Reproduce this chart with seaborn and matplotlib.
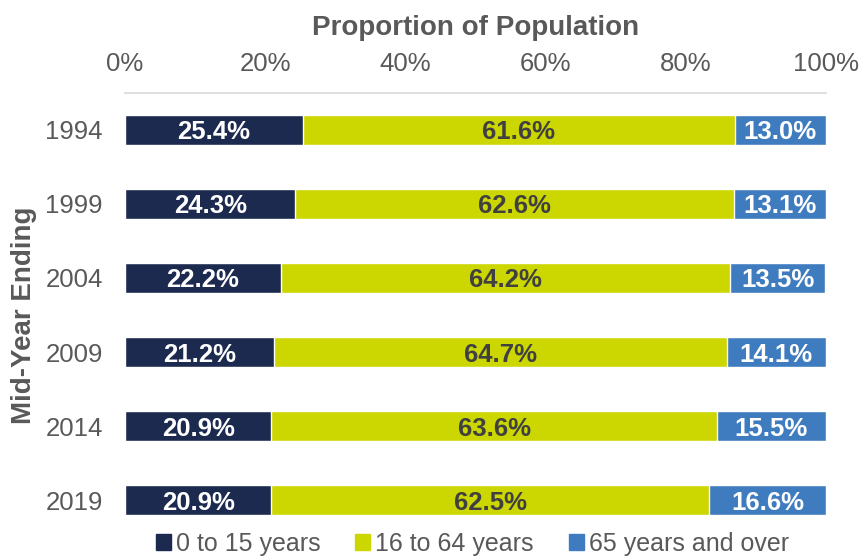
import matplotlib
matplotlib.use("Agg")
import matplotlib.pyplot as plt
import matplotlib.patches as mpatches
import numpy as np
import pandas as pd
import seaborn as sns

years = ["1994", "1999", "2004", "2009", "2014", "2019"]
age_0_15 = [25.4, 24.3, 22.2, 21.2, 20.9, 20.9]
age_16_64 = [61.6, 62.6, 64.2, 64.7, 63.6, 62.5]
age_65_over = [13.0, 13.1, 13.5, 14.1, 15.5, 16.6]
series_names = ["0 to 15 years", "16 to 64 years", "65 years and over"]

navy = "#1D2A50"
lime = "#CCD600"
blue = "#3F7CBF"
grey = "#595959"

sns.set_theme(style="white")
plt.rcParams["font.family"] = ["Liberation Sans", "DejaVu Sans"]

df = pd.DataFrame({"year": years, "a": age_0_15, "b": age_16_64, "c": age_65_over})
df["ab"] = df["a"] + df["b"]
df["abc"] = df["ab"] + df["c"]

fig, ax = plt.subplots(figsize=(8.62, 5.59), dpi=100)
fig.subplots_adjust(left=0.145, right=0.958, top=0.834, bottom=0.039)

# stacked bars drawn from the total down
sns.barplot(data=df, x="abc", y="year", orient="h", color=blue, width=0.4, saturation=1, ax=ax)
sns.barplot(data=df, x="ab", y="year", orient="h", color=lime, width=0.4, saturation=1, ax=ax)
sns.barplot(data=df, x="a", y="year", orient="h", color=navy, width=0.4, saturation=1, ax=ax)

lab = dict(ha="center", va="center_baseline", fontsize=18.5, fontweight="bold")
for i, row in df.iterrows():
    ax.text(row["a"] / 2, i, f"{row['a']:.1f}%", color="white", **lab)
    ax.text(row["a"] + row["b"] / 2, i, f"{row['b']:.1f}%", color="#404040", **lab)
    ax.text(row["ab"] + row["c"] / 2, i, f"{row['c']:.1f}%", color="white", **lab)

ax.set_xlim(0, 100)
ax.set_ylim(5.5, -0.5)
ax.xaxis.tick_top()
ax.xaxis.set_label_position("top")
ax.set_xticks(np.arange(0, 101, 20))
ax.set_xticklabels([f"{v}%" for v in range(0, 101, 20)])
ax.tick_params(axis="both", length=0, labelsize=18.5, labelcolor=grey)
ax.tick_params(axis="x", pad=12)
ax.tick_params(axis="y", pad=16)
ax.set_xlabel("Proportion of Population", fontsize=20, fontweight="bold", color=grey, labelpad=12)
ax.set_ylabel("Mid-Year Ending", fontsize=20, fontweight="bold", color=grey, labelpad=6)

for s in ["left", "right", "bottom"]:
    ax.spines[s].set_visible(False)
ax.spines["top"].set_color("#D9D9D9")
ax.spines["top"].set_linewidth(1.2)

handles = [mpatches.Patch(color=c, label=n) for c, n in zip([navy, lime, blue], series_names)]
leg = fig.legend(handles=handles, loc="lower center", bbox_to_anchor=(0.548, -0.035), ncol=3,
                 frameon=False, fontsize=18, handlelength=0.6, handleheight=0.6,
                 handletextpad=0.2, columnspacing=1.4)
for t in leg.get_texts():
    t.set_color(grey)

fig.savefig("out.png", dpi=100)
